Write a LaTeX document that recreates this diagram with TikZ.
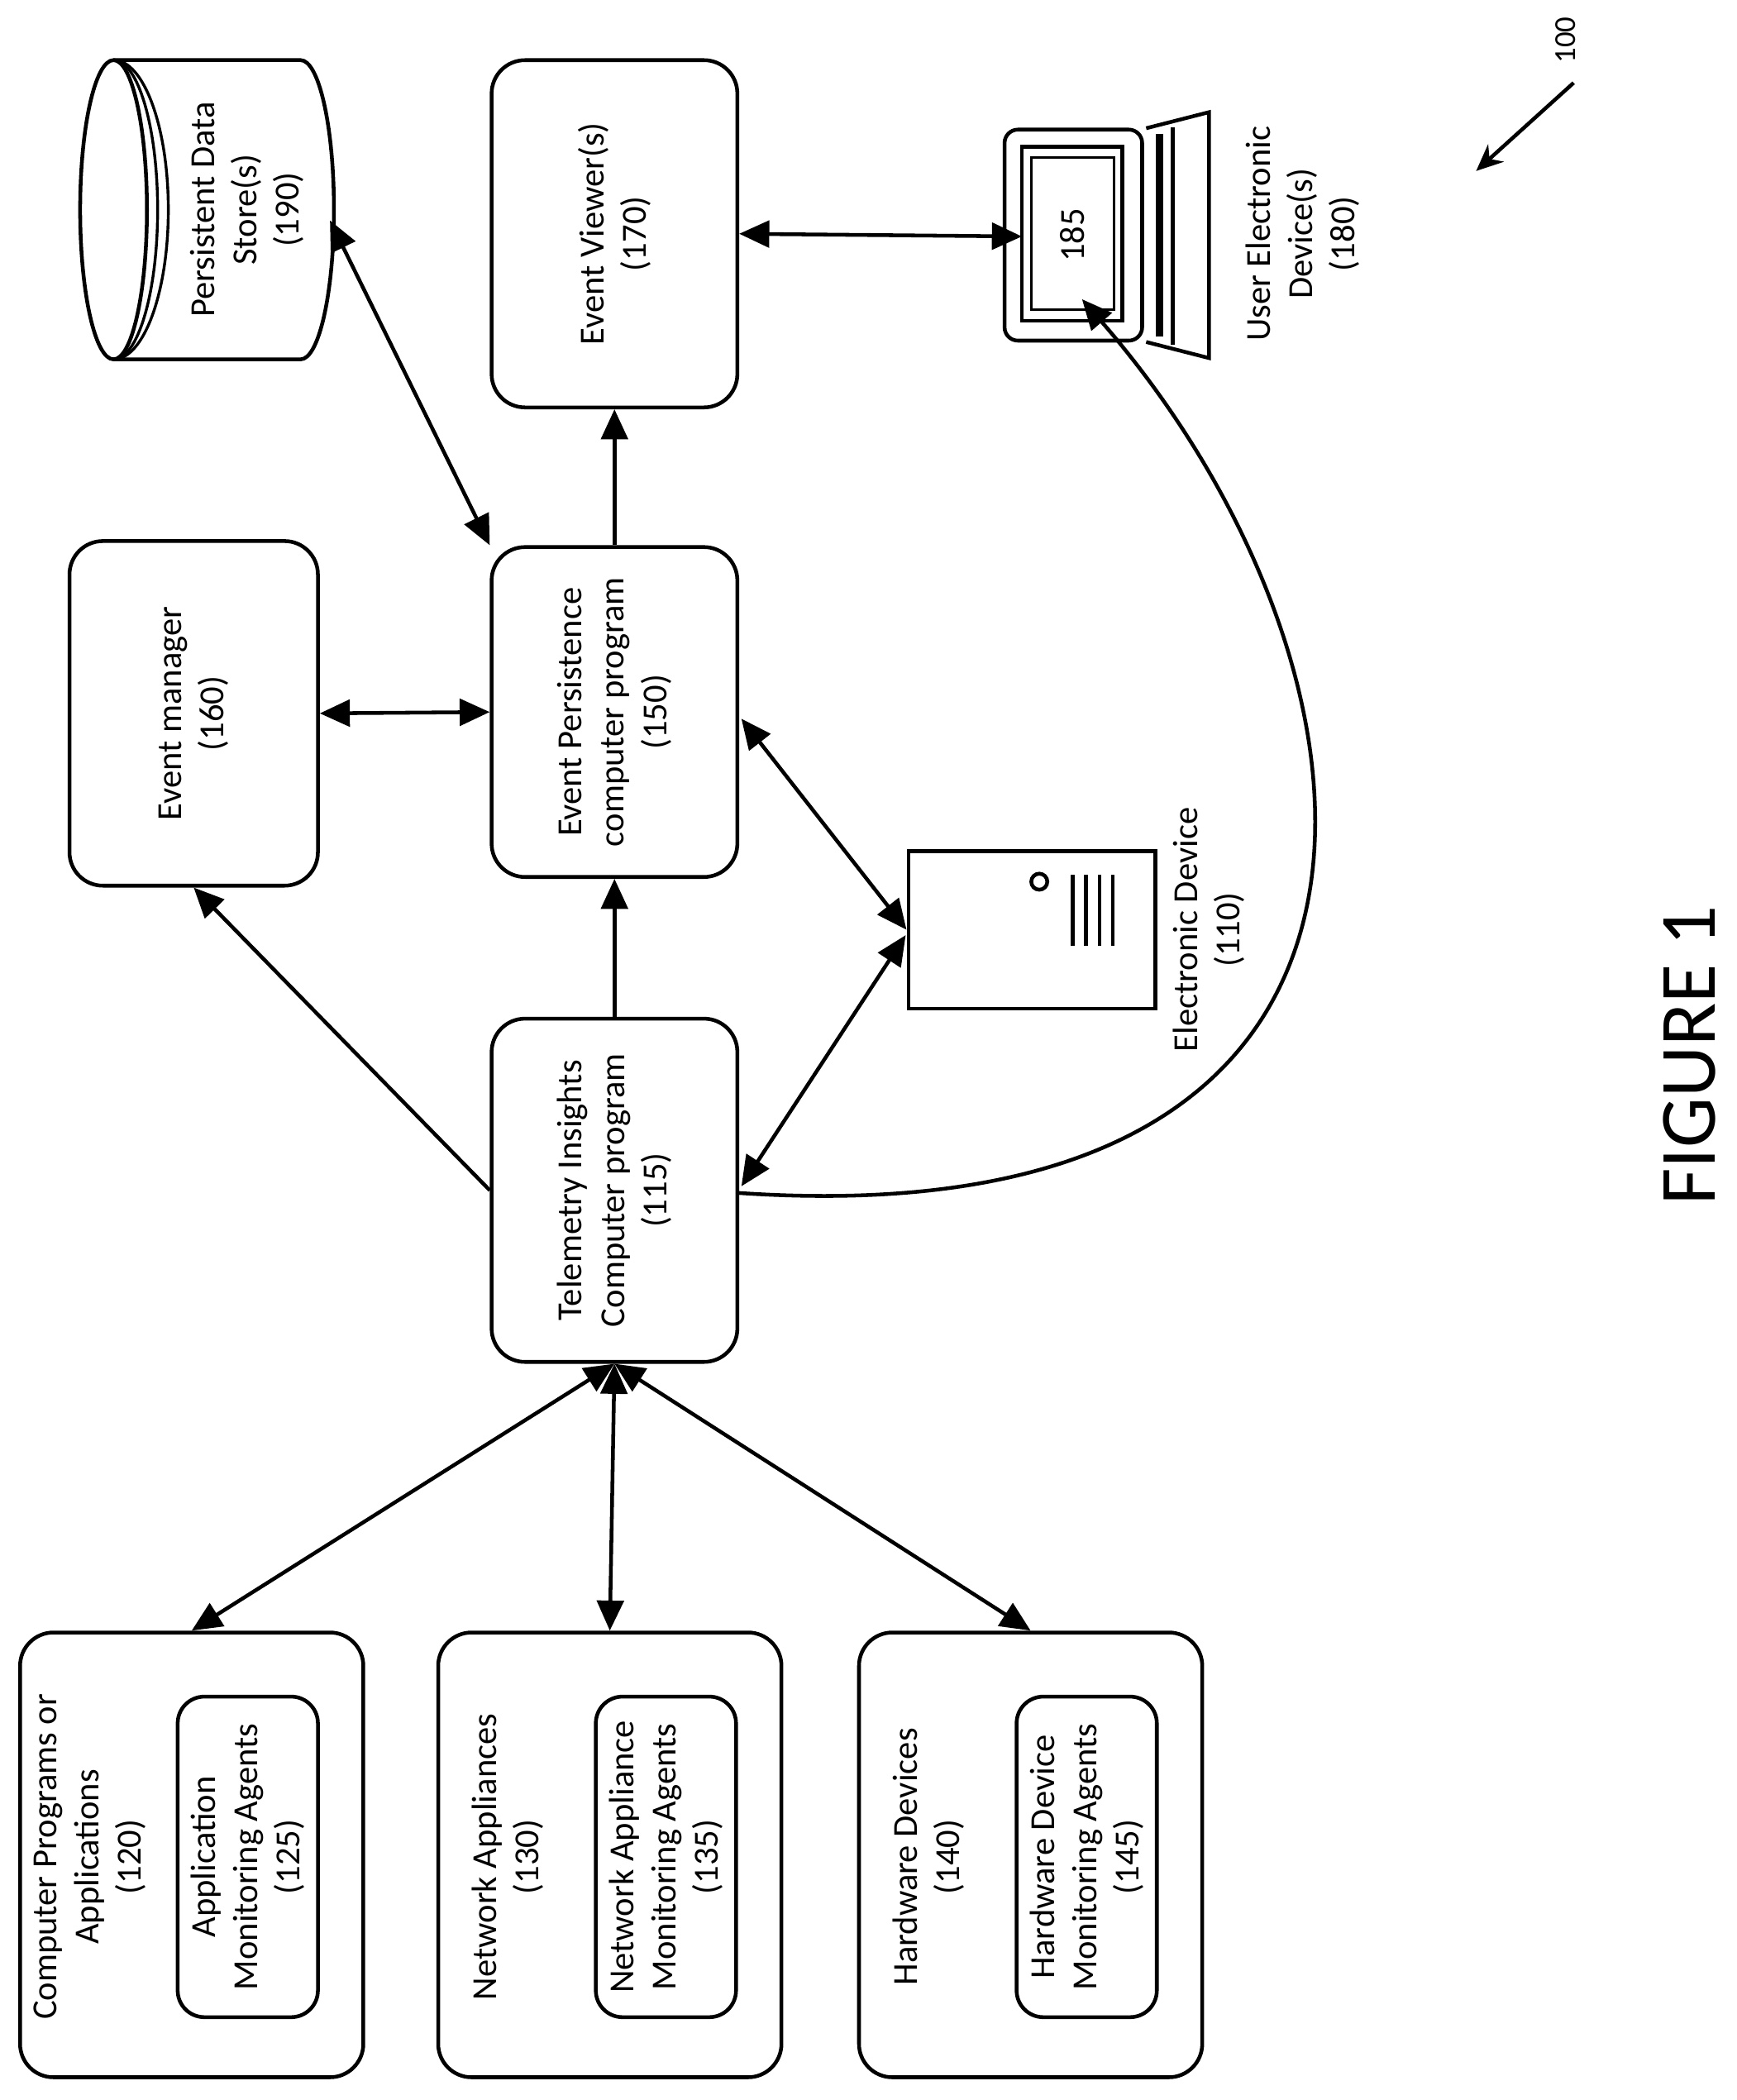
\documentclass[tikz,border=0pt]{standalone}
\usepackage{fontspec}
\setmainfont{Carlito}
\usetikzlibrary{arrows.meta,shapes.geometric}
\begin{document}
\begin{tikzpicture}[x=0.02cm,y=-0.02cm,
  box/.style={draw,line width=1.6pt,rounded corners=5mm,inner sep=0pt},
  rot/.style={rotate=90,align=center,font=\fontsize{15}{18}\selectfont},
  con/.style={line width=1.6pt},
  arr/.style={con,-{Triangle[length=4.5mm,width=4mm]}},
  darr/.style={con,{Triangle[length=4.5mm,width=4mm]}-{Triangle[length=4.5mm,width=4mm]}}]
\useasboundingbox (0,0) rectangle (1300,1572);
% main boxes
\node[box,minimum width=3.72cm,minimum height=5.16cm] (em) at (145,534) {};
\node[rot] at (em) {Event manager\\(160)};
\node[box,minimum width=3.68cm,minimum height=4.94cm] (ep) at (460,533) {};
\node[rot] at (ep) {Event Persistence\\computer program\\(150)};
\node[box,minimum width=3.68cm,minimum height=5.2cm] (ev) at (460,175) {};
\node[rot] at (ev) {Event Viewer(s)\\(170)};
\node[box,minimum width=3.68cm,minimum height=5.14cm] (tel) at (460,891) {};
\node[rot] at (tel) {Telemetry Insights\\Computer program\\(115)};
% cylinder
\draw[line width=1.6pt] (85,157) ellipse[x radius=25,y radius=112];
\draw[line width=1.6pt] (85,45) -- (225,45) arc[start angle=-90,end angle=90,x radius=25,y radius=112] -- (85,269);
\draw[line width=1.2pt] (85,45) arc[start angle=-90,end angle=90,x radius=33,y radius=112];
\draw[line width=1.2pt] (85,45) arc[start angle=-90,end angle=90,x radius=41,y radius=112];
\coordinate (ds) at (247,165);
\node[rot] at (185,157) {Persistent Data\\Store(s)\\(190)};
% server
\node[draw,line width=1.6pt,minimum width=3.7cm,minimum height=2.36cm,inner sep=0pt] (ed) at (772.5,696) {};
\draw[line width=1.6pt] (778,660) circle[radius=6];
\foreach \x in {803,813,823,833} \draw[line width=1.6pt] (\x,655) -- (\x,708);
\node[rot] at (905,696) {Electronic Device\\(110)};
% laptop
\node[draw,line width=1.6pt,rounded corners=2mm,minimum width=2.06cm,minimum height=3.16cm,inner sep=0pt] (ud) at (803.5,176) {};
\draw[line width=1.6pt] (765,110) rectangle (840,240);
\draw[line width=1pt] (772,118) rectangle (834,232);
\node[rot] at (803,176) {185};
\draw[line width=1.6pt] (858,96) -- (905,84) -- (905,268) -- (858,256);
\draw[line width=3pt] (868,100) -- (868,252);
\draw[line width=1.6pt] (878,95) -- (878,258);
\node[rot] at (975,175) {User Electronic\\Device(s)\\(180)};
% bottom boxes
\node[box,minimum width=5.14cm,minimum height=6.66cm] (cp) at (143.5,1388.5) {};
\node[box,minimum width=2.1cm,minimum height=4.8cm,rounded corners=4mm] (am) at (185.5,1390) {};
\node[rot] at (67,1390) {Computer Programs or\\Applications\\(120)};
\node[rot] at (185.5,1390) {Application\\Monitoring Agents\\(125)};
\node[box,minimum width=5.14cm,minimum height=6.66cm] (na) at (456.5,1388.5) {};
\node[box,minimum width=2.1cm,minimum height=4.8cm,rounded corners=4mm] (nm) at (498.5,1390) {};
\node[rot] at (380,1390) {Network Appliances\\(130)};
\node[rot] at (498.5,1390) {Network Appliance\\Monitoring Agents\\(135)};
\node[box,minimum width=5.14cm,minimum height=6.66cm] (hd) at (771.5,1388.5) {};
\node[box,minimum width=2.1cm,minimum height=4.8cm,rounded corners=4mm] (hm) at (813.5,1390) {};
\node[rot] at (695,1390) {Hardware Devices\\(140)};
\node[rot] at (813.5,1390) {Hardware Device\\Monitoring Agents\\(145)};
% connectors
\draw[arr] (tel.north) -- (ep.south);
\draw[arr] (ep.north) -- (ev.south);
\draw[arr] (tel.west) -- (em.south);
\draw[darr] (em.east) -- (ep.west);
\draw[darr] (ep.north west) -- (ds);
\draw[darr] (ev.east) -- (765,177) coordinate (ul);
\draw[darr] (555,538) coordinate (e1) -- (ed.west);
\draw[darr] (555,888) coordinate (t2) -- (678,700);
\draw[arr] (553,893) coordinate (t3) .. controls (1100,930) and (1050,500) .. (810,224);
\draw[darr] (tel.south) -- (cp.north);
\draw[darr] (tel.south) -- (na.north);
\draw[darr] (tel.south) -- (hd.north);
% figure label
\node[rotate=90,font=\fontsize{34}{40}\selectfont] at (1265,790) {FIGURE 1};
\node[rotate=90,font=\fontsize{13}{15}\selectfont] at (1172,30) {100};
\draw[con,-{Stealth[length=4mm,width=3.5mm]}] (1178,62) coordinate (c1) -- (1105,128);
\end{tikzpicture}
\end{document}
